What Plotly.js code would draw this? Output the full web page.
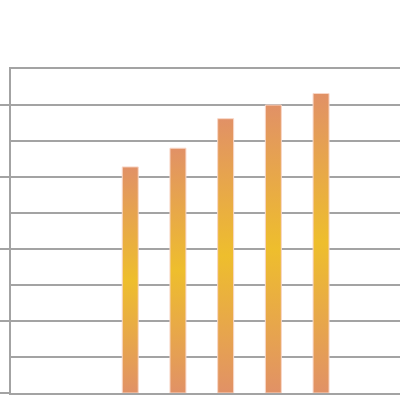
<!doctype html>
<html>
<head>
  <meta charset="utf-8">
  <title>Bar chart</title>
  <script src="https://cdn.plot.ly/plotly-3.0.1.min.js"></script>
  <style>
    html, body { margin: 0; padding: 0; background: #fff; }
    #chart { width: 400px; height: 400px; }
  </style>
</head>
<body>
  <div id="chart"></div>
  <script>
    // categories (first two slots are empty in the picture)
    var categories = ['c1', 'c2', 'c3', 'c4', 'c5', 'c6', 'c7', 'c8'];
    var values = [null, null, 3.14, 3.40, 3.81, 4.00, 4.16, null];

    var barWidth = 0.335;
    var orange = 'rgb(225,145,102)';
    var yellow = 'rgb(238,190,45)';
    var grey = '#a3a3a3';

    // one filled rectangle per bar so each gets its own vertical gradient
    var traces = [];
    values.forEach(function(v, i) {
      if (v === null) return;
      var x0 = i - barWidth / 2, x1 = i + barWidth / 2;
      traces.push({
        type: 'scatter',
        mode: 'lines',
        x: [x0, x1, x1, x0, x0],
        y: [0, 0, v, v, 0],
        fill: 'toself',
        fillgradient: {
          type: 'vertical',
          colorscale: [[0, orange], [0.5, yellow], [1, orange]]
        },
        line: { color: 'rgba(248,215,200,1)', width: 1 },
        hoverinfo: 'skip',
        name: categories[i],
        showlegend: false
      });
    });

    var layout = {
      width: 400,
      height: 400,
      margin: { l: 11, r: 0, t: 69, b: 7 },
      paper_bgcolor: '#fff',
      plot_bgcolor: '#fff',
      showlegend: false,
      xaxis: {
        range: [-0.5, 7.655],
        showgrid: false,
        zeroline: false,
        showticklabels: false,
        ticks: '',
        showline: true,
        mirror: true,
        linecolor: grey,
        linewidth: 2
      },
      yaxis: {
        range: [0, 4.5],
        dtick: 1,
        tick0: 0,
        ticks: 'outside',
        ticklen: 11,
        tickwidth: 2,
        tickcolor: grey,
        showticklabels: false,
        showgrid: true,
        gridcolor: grey,
        gridwidth: 1.6,
        zeroline: false,
        showline: true,
        linecolor: grey,
        linewidth: 2,
        minor: {
          dtick: 0.5,
          showgrid: true,
          gridcolor: grey,
          gridwidth: 1.6,
          ticks: ''
        }
      }
    };

    Plotly.newPlot('chart', traces, layout, { displayModeBar: false, staticPlot: true });
  </script>
</body>
</html>
